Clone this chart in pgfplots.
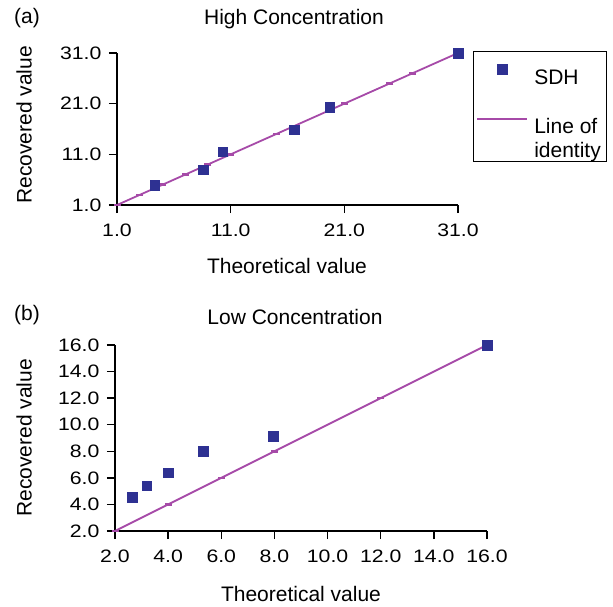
\documentclass[border=0pt]{standalone}
\usepackage{fontspec}
\setmainfont{Liberation Sans}
\newfontfamily\tickfont[FakeStretch=1.18]{Liberation Sans}
\usepackage{pgfplots}
\pgfplotsset{compat=1.18}
\definecolor{sdh}{RGB}{46,49,146}
\definecolor{ident}{RGB}{166,74,168}
\pgfplotsset{
  myaxis/.style={
    scale only axis,
    axis lines=left,
    axis line style={-, line width=1.4pt, black},
    tick align=outside,
    major tick length=8pt,
    every tick/.style={line width=1.4pt, black},
    clip=false,
    ticklabel style={font=\tickfont\fontsize{18}{22}\selectfont},
    xticklabel style={yshift=-7pt, /pgf/number format/.cd, fixed, fixed zerofill, precision=1, assume math mode=true},
    yticklabel style={xshift=-4pt, /pgf/number format/.cd, fixed, fixed zerofill, precision=1, assume math mode=true},
  },
  sdhplot/.style={only marks, mark=square*, mark size=4.8pt, color=sdh},
  idplot/.style={ident, line width=1.8pt, mark=-, mark size=3.5pt, mark options={line width=2.5pt}},
  idlegend/.style={legend image code/.code={
    \draw[##1, mark repeat=2, mark phase=2] plot coordinates {(0pt,15.5pt) (25pt,15.5pt) (50pt,15.5pt)};}},
  sdhlegend/.style={legend image code/.code={
    \path[draw=none, fill=none] (0pt,0pt) -- (50pt,0pt);
    \draw[##1] plot coordinates {(25pt,0pt)};}},
}
\begin{document}
\begin{tikzpicture}[font=\fontsize{21}{24}\selectfont]
\useasboundingbox (0,0) rectangle (613pt,-607pt);
% ---------- (a) ----------
\begin{axis}[myaxis, at={(117pt,-205pt)}, anchor=south west,
  width=341pt, height=152pt,
  xmin=1, xmax=31, ymin=1, ymax=31,
  xtick={1,11,21,31}, ytick={1,11,21,31},
  reverse legend,
  legend style={at={(1.044,1.013)}, anchor=north west, draw=black, line width=1pt,
    font=\fontsize{21}{24}\selectfont, inner xsep=3pt, inner ysep=0pt, row sep=19.8pt,
    cells={anchor=west, align=left, inner sep=2pt},
    /tikz/every odd column/.append style={column sep=4pt}},
]
\addplot[idplot, idlegend]
  coordinates {(1,1) (3,3) (5,5) (7,7) (9,9) (11,11) (15,15) (21,21) (25,25) (27,27) (31,31)};
\addlegendentry{\rule{0pt}{24.3pt}Line of\\identity\rule[-13.4pt]{0pt}{13.4pt}\hspace*{1pt}}
\addplot[sdhplot, sdhlegend] coordinates {(4.3,4.9) (8.6,8.0) (10.3,11.5) (16.6,15.9) (19.7,20.3) (31,31)};
\addlegendentry{\rule[-15.7pt]{0pt}{46.5pt}SDH}
\end{axis}
% ---------- (b) ----------
\begin{axis}[myaxis, at={(115pt,-531pt)}, anchor=south west,
  width=372pt, height=186pt,
  xmin=2, xmax=16, ymin=2, ymax=16,
  xtick={2,4,...,16}, ytick={2,4,...,16},
]
\addplot[idplot] coordinates {(2,2) (4,4) (6,6) (8,8) (12,12) (16,16)};
\addplot[sdhplot] coordinates {(2.65,4.55) (3.2,5.4) (4.0,6.4) (5.33,8.0) (7.96,9.15) (16,16)};
\end{axis}
% ---------- text ----------
\node at (27pt,-18.5pt) {(a)};
\node[anchor=base] at (294pt,-24.3pt) {High Concentration};
\node[anchor=base] at (287pt,-273pt) {Theoretical value};
\node[rotate=90] at (24pt,-125pt) {Recovered value};
\node at (27pt,-315pt) {(b)};
\node[anchor=base] at (295pt,-324pt) {Low Concentration};
\node[anchor=base] at (301pt,-601pt) {Theoretical value};
\node[rotate=90] at (24pt,-438pt) {Recovered value};
\end{tikzpicture}
\end{document}
